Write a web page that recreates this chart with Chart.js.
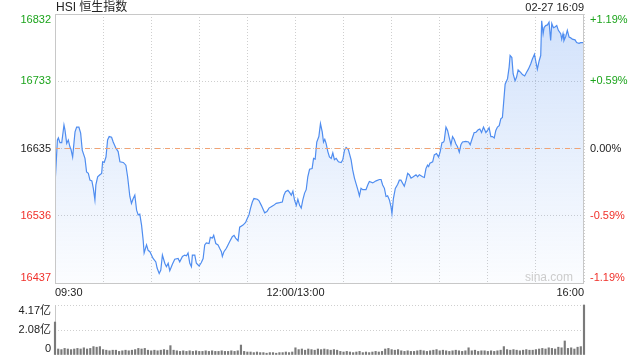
<!DOCTYPE html>
<html>
<head>
<meta charset="utf-8">
<script src="https://cdn.jsdelivr.net/npm/chart.js@4/dist/chart.umd.min.js"></script>
<style>
  body { margin: 0; background: #fff; }
  .box { position: absolute; left: 0; width: 640px; }
</style>
</head>
<body>
<div class="box" style="top:0;height:300px"><canvas id="priceChart"></canvas></div>
<div class="box" style="top:300px;height:60px"><canvas id="volumeChart"></canvas></div>
<script>
// HSI intraday, minutes counted from 09:30 (lunch break removed, 330 = 16:00)
const minutes = [
  0.0, 1.5, 2.1, 3.1, 4.2, 5.6, 6.2, 7.3, 8.3, 9.3, 10.0, 11.0, 11.8, 12.5, 13.5, 14.9, 16.0, 17.0, 18.7, 19.7,
  20.8, 21.8, 23.0, 23.9, 24.9, 25.5, 26.6, 28.0, 29.1, 29.7, 30.7, 31.8, 32.8, 33.8, 35.3, 36.3, 38.0, 39.4, 40.5, 42.6,
  44.2, 45.3, 46.7, 47.7, 48.8, 49.8, 50.9, 51.9, 52.9, 54.0, 55.0, 55.6, 57.1, 58.1, 59.2, 61.2, 62.9, 63.7, 65.0, 66.0,
  67.0, 68.5, 69.5, 70.6, 71.6, 73.3, 74.7, 76.8, 77.8, 79.5, 80.9, 82.0, 83.0, 84.1, 85.1, 85.7, 87.2, 88.2, 89.9, 91.3,
  92.4, 93.4, 94.4, 96.1, 96.9, 98.2, 99.0, 100.3, 101.7, 102.7, 103.8, 104.4, 105.4, 106.9, 109.0, 110.6, 111.7, 112.7, 114.2, 115.2,
  117.3, 118.9, 120.0, 121.0, 122.0, 123.1, 124.1, 126.2, 127.2, 128.7, 130.8, 132.2, 133.5, 134.9, 136.4, 138.0, 140.1, 141.8, 142.8, 143.8,
  145.3, 146.3, 147.4, 148.4, 149.4, 150.5, 151.5, 152.6, 153.6, 154.6, 155.7, 156.7, 157.7, 158.8, 160.4, 161.3, 162.3, 163.3, 164.6, 165.6,
  166.7, 167.5, 168.3, 169.1, 170.2, 171.2, 172.3, 173.3, 174.3, 175.4, 176.8, 178.5, 179.5, 180.6, 181.6, 183.0, 184.7, 185.7, 186.8, 187.8,
  188.9, 189.9, 190.9, 192.0, 193.0, 194.0, 195.1, 196.1, 198.2, 200.3, 202.4, 203.4, 204.4, 205.5, 206.5, 207.5, 208.6, 209.6, 210.2, 211.1,
  212.3, 213.8, 214.8, 215.8, 217.9, 219.0, 220.0, 221.0, 222.1, 223.5, 225.2, 226.2, 227.3, 229.3, 230.4, 231.4, 232.4, 233.1, 233.9, 235.6,
  236.6, 238.0, 239.3, 240.3, 241.4, 242.4, 242.8, 243.9, 244.9, 245.9, 247.0, 248.0, 249.0, 250.1, 251.1, 252.2, 253.2, 254.2, 256.3, 258.0,
  259.0, 260.5, 261.5, 262.5, 264.0, 265.0, 266.1, 267.3, 268.8, 269.8, 270.8, 271.9, 272.9, 274.0, 275.0, 276.0, 277.1, 278.1, 279.1, 279.8,
  280.8, 282.3, 283.3, 283.9, 285.0, 285.8, 287.0, 287.9, 288.9, 290.6, 291.6, 293.0, 294.1, 295.3, 296.8, 297.8, 299.1, 299.9, 300.9, 302.0,
  303.0, 303.6, 304.5, 305.1, 306.1, 307.2, 308.2, 309.2, 309.9, 310.9, 311.9, 313.0, 314.0, 315.5, 316.1, 316.9, 317.5, 318.6, 319.6, 320.7,
  321.7, 322.7, 324.4, 325.4, 326.9, 327.9, 329.0, 330.0
]
const prices = [
  16581, 16647, 16650, 16643, 16643, 16669, 16662, 16642, 16647, 16637, 16633, 16622, 16642, 16659, 16666, 16666, 16657, 16632, 16620, 16600,
  16598, 16588, 16587, 16576, 16559, 16581, 16593, 16596, 16598, 16615, 16614, 16622, 16647, 16652, 16651, 16644, 16635, 16630, 16615, 16614,
  16610, 16593, 16564, 16554, 16561, 16566, 16544, 16537, 16538, 16522, 16500, 16481, 16493, 16485, 16483, 16473, 16468, 16459, 16451, 16456,
  16478, 16466, 16461, 16466, 16455, 16465, 16472, 16473, 16468, 16476, 16478, 16477, 16481, 16466, 16461, 16478, 16478, 16466, 16462, 16467,
  16473, 16493, 16496, 16495, 16504, 16503, 16507, 16495, 16493, 16488, 16483, 16476, 16483, 16488, 16498, 16505, 16507, 16503, 16499, 16519,
  16522, 16526, 16532, 16537, 16547, 16556, 16561, 16560, 16558, 16551, 16540, 16542, 16547, 16549, 16551, 16554, 16555, 16556, 16566, 16571,
  16573, 16570, 16566, 16572, 16559, 16551, 16560, 16551, 16547, 16559, 16569, 16574, 16593, 16604, 16605, 16620, 16619, 16644, 16652, 16671,
  16659, 16644, 16648, 16642, 16630, 16622, 16620, 16628, 16618, 16620, 16615, 16614, 16618, 16632, 16636, 16633, 16618, 16603, 16591, 16583,
  16574, 16565, 16576, 16574, 16574, 16574, 16581, 16586, 16584, 16587, 16589, 16589, 16581, 16576, 16564, 16565, 16559, 16549, 16539, 16561,
  16576, 16582, 16588, 16588, 16579, 16588, 16598, 16596, 16591, 16593, 16596, 16593, 16596, 16593, 16592, 16605, 16610, 16608, 16613, 16615,
  16625, 16627, 16622, 16630, 16643, 16644, 16646, 16666, 16661, 16651, 16640, 16652, 16648, 16641, 16637, 16629, 16640, 16644, 16645, 16644,
  16640, 16651, 16658, 16658, 16662, 16663, 16658, 16666, 16658, 16661, 16665, 16652, 16652, 16650, 16661, 16666, 16668, 16678, 16680, 16700,
  16729, 16737, 16754, 16771, 16768, 16744, 16734, 16739, 16750, 16746, 16743, 16741, 16746, 16751, 16759, 16766, 16773, 16763, 16751, 16763,
  16771, 16822, 16803, 16812, 16815, 16816, 16820, 16793, 16818, 16812, 16813, 16815, 16808, 16803, 16795, 16803, 16793, 16799, 16808, 16798,
  16797, 16795, 16794, 16790, 16789, 16790, 16790, 16790
]
const prevClose = 16634.5

const priceTicks = [16437, 16535.75, 16634.5, 16733.25, 16832]
const priceTickLabels = ['16437', '16536', '16635', '16733', '16832']
const pctTickLabels = ['-1.19%', '-0.59%', '0.00%', '+0.59%', '+1.19%']

const timeTicks = [0, 150, 330]
const timeTickLabels = ['09:30', '12:00/13:00', '16:00']

// volume in 亿, one bar per 2 minutes
const volMinutes = []
for (let i = 0; i <= 165; i++) volMinutes.push(i * 2)
const volumes = [
  2.75,
  0.5, 0.45, 0.55, 0.5, 0.45, 0.5, 0.55, 0.5, 0.6, 0.5, 0.55,
  0.7, 0.65, 0.7,
  0.45, 0.4, 0.35, 0.4, 0.4, 0.3, 0.35, 0.4, 0.35, 0.4, 0.45,
  0.55, 0.5, 0.55,
  0.4, 0.35, 0.4, 0.35, 0.4, 0.45, 0.4,
  0.78,
  0.4, 0.35, 0.3, 0.35, 0.3, 0.35, 0.3, 0.35, 0.3, 0.3, 0.35, 0.3, 0.35, 0.3, 0.3, 0.35, 0.3, 0.3, 0.35, 0.3, 0.35,
  0.83,
  0.3, 0.25, 0.25, 0.2, 0.25, 0.2, 0.2, 0.15, 0.2, 0.2, 0.15, 0.2, 0.2, 0.25, 0.2, 0.25,
  0.6,
  0.45, 0.5, 0.4, 0.5, 0.45, 0.4, 0.5,
  0.45, 0.5, 0.45, 0.4, 0.45, 0.4,
  0.3, 0.25, 0.3, 0.25, 0.2, 0.25, 0.3, 0.2, 0.25, 0.2, 0.25, 0.3, 0.25, 0.3,
  0.5, 0.55, 0.45, 0.4, 0.45,
  0.35, 0.3, 0.35, 0.3, 0.3, 0.35, 0.4, 0.35, 0.3, 0.35, 0.4, 0.45, 0.35, 0.4, 0.35, 0.3, 0.35, 0.4, 0.35, 0.3, 0.35,
  0.6,
  0.35, 0.4, 0.3, 0.35, 0.35, 0.3, 0.35, 0.3, 0.35, 0.4,
  0.7,
  0.45, 0.4, 0.45, 0.4, 0.35, 0.4, 0.45, 0.4, 0.4, 0.45, 0.5,
  0.55, 0.5, 0.6, 0.55, 0.5, 0.65, 0.6, 1.17, 0.55, 0.6, 0.5, 0.65, 0.7,
  4.17
]
const volTicks = [0, 2.085, 4.17]
const volTickLabels = ['0', '2.08亿', '4.17亿']

const title = 'HSI 恒生指数'
const stamp = '02-27 16:09'
const watermark = 'sina.com'

const upColor = '#1ca41c'
const downColor = '#f0302a'
const flatColor = '#222'
const gridColor = '#cfcfcf'
const frameColor = '#c8c8c8'
const fontFamily = '"Liberation Sans", Arial, "Noto Sans CJK SC", sans-serif'

function tickColor(v) {
  if (Math.abs(v - prevClose) < 0.01) return flatColor
  return v > prevClose ? upColor : downColor
}

const priceLabels = {
  id: 'priceLabels',
  afterDraw(chart) {
    const ctx = chart.ctx
    const a = chart.chartArea
    const x = chart.scales.x
    const y = chart.scales.y
    ctx.save()
    ctx.strokeStyle = frameColor
    ctx.lineWidth = 1
    ctx.strokeRect(a.left + 0.5, a.top + 0.5, a.right - a.left - 1, a.bottom - a.top)

    ctx.font = '11px ' + fontFamily
    ctx.textBaseline = 'middle'
    priceTicks.forEach(function(v, i) {
      let py = y.getPixelForValue(v)
      py = Math.min(Math.max(py, a.top + 6), a.bottom - 5)
      ctx.fillStyle = tickColor(v)
      ctx.textAlign = 'right'
      ctx.fillText(priceTickLabels[i], a.left - 4, py)
      ctx.textAlign = 'left'
      ctx.fillText(pctTickLabels[i], a.right + 6, py)
    })

    ctx.fillStyle = '#222'
    timeTicks.forEach(function(t, i) {
      ctx.textAlign = i == 0 ? 'left' : (i == timeTicks.length - 1 ? 'right' : 'center')
      ctx.fillText(timeTickLabels[i], x.getPixelForValue(t), a.bottom + 10)
    })

    ctx.textBaseline = 'alphabetic'
    ctx.font = '12px ' + fontFamily
    ctx.textAlign = 'left'
    ctx.fillText(title, a.left + 1, a.top - 3)
    ctx.font = '11px ' + fontFamily
    ctx.textAlign = 'right'
    ctx.fillText(stamp, a.right, a.top - 3)

    ctx.fillStyle = '#cccccc'
    ctx.font = '12px ' + fontFamily
    ctx.fillText(watermark, a.right - 11, a.bottom - 2)
    ctx.restore()
  }
}

new Chart(document.getElementById('priceChart'), {
  type: 'line',
  data: {
    datasets: [{
      data: minutes.map((m, i) => ({ x: m, y: prices[i] })),
      borderColor: '#4f8df0',
      borderWidth: 1.2,
      pointRadius: 0,
      tension: 0,
      fill: 'start',
      order: 1,
      backgroundColor: function(context) {
        const area = context.chart.chartArea
        if (!area) return 'rgba(79,141,240,0.1)'
        const g = context.chart.ctx.createLinearGradient(0, area.top, 0, area.bottom)
        g.addColorStop(0, 'rgba(79,141,240,0.26)')
        g.addColorStop(1, 'rgba(79,141,240,0.02)')
        return g
      }
    }, {
      data: [{ x: 0, y: prevClose }, { x: 330, y: prevClose }],
      borderColor: '#f2a374',
      borderWidth: 1,
      borderDash: [5, 5],
      pointRadius: 0,
      fill: false,
      order: 0
    }]
  },
  options: {
    responsive: true,
    maintainAspectRatio: false,
    animation: false,
    layout: { padding: { left: 55, right: 56, top: 14, bottom: 17 } },
    plugins: { legend: { display: false }, tooltip: { enabled: false } },
    scales: {
      x: {
        type: 'linear',
        min: 0,
        max: 330,
        ticks: { display: false, stepSize: 30 },
        grid: { color: gridColor, drawTicks: false },
        border: { display: false, dash: [1, 2] }
      },
      y: {
        min: 16437,
        max: 16832,
        afterBuildTicks: function(scale) { scale.ticks = priceTicks.map(v => ({ value: v })) },
        ticks: { display: false },
        grid: { color: gridColor, drawTicks: false },
        border: { display: false, dash: [1, 2] }
      }
    }
  },
  plugins: [priceLabels]
})

const volumeLabels = {
  id: 'volumeLabels',
  beforeDatasetsDraw(chart) {
    // left axis line, under the bars
    const ctx = chart.ctx
    const a = chart.chartArea
    ctx.save()
    ctx.strokeStyle = frameColor
    ctx.lineWidth = 1
    ctx.beginPath()
    ctx.moveTo(a.left + 0.5, a.top)
    ctx.lineTo(a.left + 0.5, a.bottom)
    ctx.stroke()
    ctx.restore()
  },
  afterDraw(chart) {
    const ctx = chart.ctx
    const a = chart.chartArea
    const y = chart.scales.y
    ctx.save()
    ctx.font = '11px ' + fontFamily
    ctx.textBaseline = 'middle'
    ctx.textAlign = 'right'
    ctx.fillStyle = '#222'
    volTicks.forEach(function(v, i) {
      let py = y.getPixelForValue(v)
      py = Math.min(Math.max(py, a.top + 6), a.bottom - 6)
      ctx.fillText(volTickLabels[i], a.left - 4, py)
    })
    ctx.restore()
  }
}

new Chart(document.getElementById('volumeChart'), {
  type: 'bar',
  data: {
    datasets: [{
      data: volMinutes.map((m, i) => ({ x: m, y: volumes[i] })),
      backgroundColor: '#7a7a7a',
      barThickness: 1.5,
      clip: false
    }]
  },
  options: {
    responsive: true,
    maintainAspectRatio: false,
    animation: false,
    layout: { padding: { left: 55, right: 56, top: 5, bottom: 5 } },
    plugins: { legend: { display: false }, tooltip: { enabled: false } },
    scales: {
      x: { type: 'linear', min: 0, max: 330, offset: false, display: false },
      y: {
        min: 0,
        max: 4.17,
        afterBuildTicks: function(scale) { scale.ticks = volTicks.map(v => ({ value: v })) },
        ticks: { display: false },
        grid: {
          color: ctx => (ctx.tick && ctx.tick.value == 0) ? 'rgba(0,0,0,0)' : gridColor,
          drawTicks: false
        },
        border: { display: false, dash: [1, 2] }
      }
    }
  },
  plugins: [volumeLabels]
})
</script>
</body>
</html>
